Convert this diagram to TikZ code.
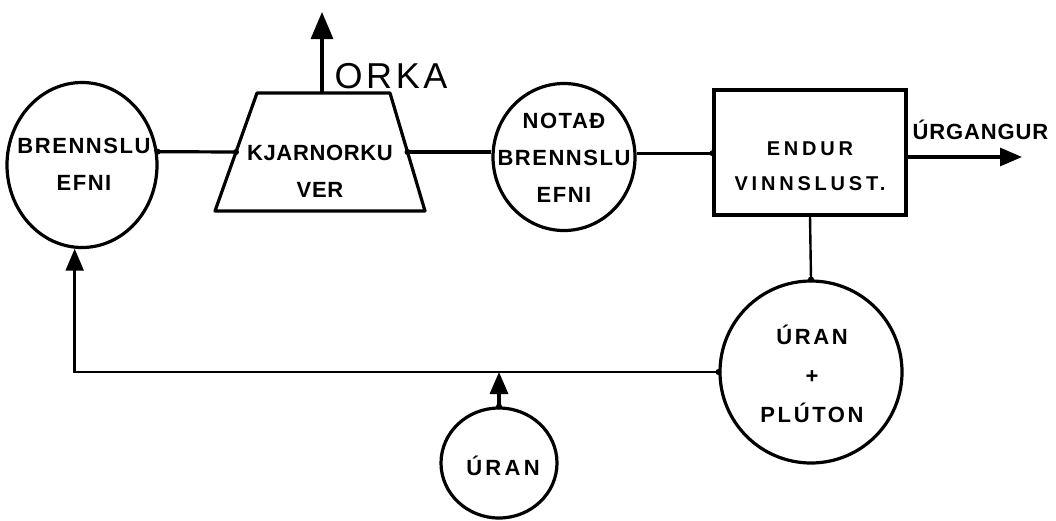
\documentclass[tikz,border=0pt]{standalone}
\usepackage{fontspec}
\setmainfont{Liberation Sans}
\newfontfamily\lblfont{Liberation Sans}
\newfontfamily\orkafont[LetterSpace=10]{Liberation Sans}
\usetikzlibrary{shapes.geometric,arrows.meta,calc}
\begin{document}
\begin{tikzpicture}[x=1pt,y=-1pt,line width=3.2pt,
  oval/.style={draw, ellipse, inner sep=0pt},
  lbl/.style={font=\lblfont\bfseries\fontsize{22}{37}\selectfont\addfontfeature{LetterSpace=#1}, align=center, inner sep=0pt},
  lbl/.default=8,
  tip/.style={-{Triangle[width=18pt,length=22pt]}},
  bigtip/.style={-{Triangle[width=22pt,length=27pt]}},
  thin line/.style={line width=2.4pt},
  dot/.style={circle, fill, inner sep=0pt, minimum size=6pt}
]
\useasboundingbox (0,0) rectangle (1056,520);

% nodes
\node[oval, minimum width=150pt, minimum height=165pt] (be) at (82,165) {};
\node[lbl=7] (bet) at (84,164) {BRENNSLU\\EFNI};

% reactor (trapezoid)
\coordinate (kvtl) at (257,93);
\coordinate (kvtr) at (390,93);
\coordinate (kvbr) at (425,211);
\coordinate (kvbl) at (215,211);
\coordinate (kvw) at ($(kvtl)!0.5!(kvbl)$);
\coordinate (kve) at ($(kvtr)!0.5!(kvbr)$);
\coordinate (kvn) at (322,93);
\draw[line join=round] (kvtl) -- (kvtr) -- (kvbr) -- (kvbl) -- cycle;
\node[lbl=3] (kvt) at (320,171) {KJARNORKU\\VER};

\node[oval, minimum width=142pt, minimum height=147pt] (nb) at (564,157) {};
\node[lbl=7] (nbt) at (564,158) {NOTAÐ\\BRENNSLU\\EFNI};

\node[draw, rectangle, minimum width=192pt, minimum height=125pt, inner sep=0pt] (ev) at (810,152.5) {};
\node[lbl, font=\lblfont\bfseries\fontsize{20}{35}\selectfont\addfontfeature{LetterSpace=19}] (evt) at (810,166) {ENDUR\\VINNSLUST.};

\node[oval, minimum width=182pt, minimum height=182pt] (up) at (811,372) {};
\node[lbl, font=\lblfont\bfseries\fontsize{22}{39}\selectfont\addfontfeature{LetterSpace=12}] (upt) at (812,374) {ÚRAN\\+\\PLÚTON};

\node[oval, minimum width=116pt, minimum height=110pt] (ur) at (499,463) {};
\node[lbl=15] (urt) at (503,466) {ÚRAN};

\node[lbl=4, anchor=base west] (urg) at (911,139) {ÚRGANGUR};
\node[font=\orkafont\fontsize{36}{40}\selectfont, inner sep=0pt, anchor=base west] (orka) at (333,88) {ORKA};

% free ends
\coordinate (ok) at (322,12);
\coordinate (w) at (1022,157);

% connectors
\draw (be.10) -- (kvw);
\draw (kve) -- (kve -| nb.west);
\draw (nb.3) -- (nb.3 -| ev.west);
\draw[tip] (ev.east |- w) -- (w);
\draw[bigtip] (kvn) -- (ok);
\draw[thin line] (ev.south) -- (up.north);
\draw[thin line, tip] (up.west) -| (be.265);
\draw[tip] (ur.north) -- (ur.north |- up.west);

% junction dots
\node[dot] (d1) at (be.10) {};
\node[dot] (d2) at (kvw) {};
\node[dot] (d3) at (kve) {};
\node[dot] (d4) at (nb.3 -| ev.west) {};
\node[dot] (d5) at (up.west) {};
\node[dot] (d6) at (up.north) {};
\node[dot] (d7) at (ur.north) {};
\end{tikzpicture}
\end{document}
